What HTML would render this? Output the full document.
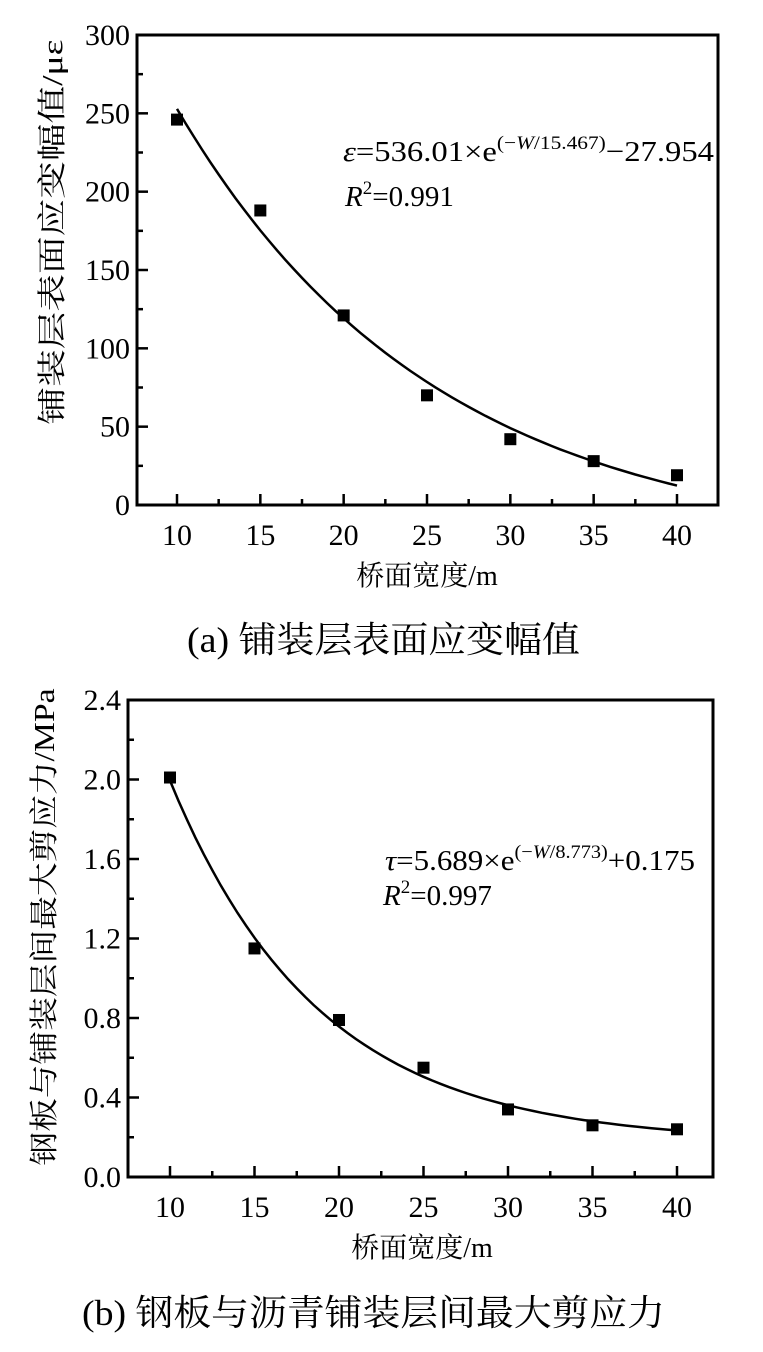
<!DOCTYPE html>
<html><head><meta charset="utf-8"><style>
body{margin:0;background:#fff;width:763px;height:1352px;overflow:hidden}
svg{display:block}
text{font-family:"Liberation Serif","Noto Serif CJK SC","Noto Sans CJK SC",serif;fill:#000}
</style></head><body>
<svg id="s" width="763" height="1352" xmlns="http://www.w3.org/2000/svg">
<g font-size="29">
<!-- top chart -->
<rect x="137" y="35" width="581" height="470" fill="none" stroke="#000" stroke-width="3"/>
<g id="t1"></g>
<text x="343" y="161" font-size="29" textLength="371" lengthAdjust="spacingAndGlyphs"><tspan font-style="italic">ε</tspan>=536.01×e<tspan dy="-12" font-size="19">(−<tspan font-style="italic">W</tspan>/15.467)</tspan><tspan dy="12">−27.954</tspan></text>
<text x="345" y="206"><tspan font-style="italic">R</tspan><tspan dy="-12" font-size="19">2</tspan><tspan dy="12">=0.991</tspan></text>
<text x="427" y="585" text-anchor="middle" font-size="28">桥面宽度/m</text>
<text transform="translate(62,232) rotate(-90)" text-anchor="middle" font-size="29" textLength="385" lengthAdjust="spacingAndGlyphs">铺装层表面应变幅值/με</text>
<text x="187" y="652" font-size="36" textLength="393" lengthAdjust="spacingAndGlyphs">(a)  铺装层表面应变幅值</text>
<!-- bottom chart -->
<rect x="128" y="700" width="585" height="477" fill="none" stroke="#000" stroke-width="3"/>
<g id="t2"></g>
<text x="385" y="870" textLength="310" lengthAdjust="spacingAndGlyphs"><tspan font-style="italic">τ</tspan>=5.689×e<tspan dy="-12" font-size="19">(−<tspan font-style="italic">W</tspan>/8.773)</tspan><tspan dy="12">+0.175</tspan></text>
<text x="383" y="905"><tspan font-style="italic">R</tspan><tspan dy="-12" font-size="19">2</tspan><tspan dy="12">=0.997</tspan></text>
<text x="422" y="1257" text-anchor="middle" font-size="28">桥面宽度/m</text>
<text transform="translate(54,927) rotate(-90)" text-anchor="middle" textLength="477" lengthAdjust="spacingAndGlyphs">钢板与铺装层间最大剪应力/MPa</text>
<text x="82" y="1325" font-size="36" textLength="583" lengthAdjust="spacingAndGlyphs">(b)  钢板与沥青铺装层间最大剪应力</text>
</g>
</svg>
<script>
var NS="http://www.w3.org/2000/svg";
function el(p,t,a,txt){var e=document.createElementNS(NS,t);for(var k in a)e.setAttribute(k,a[k]);if(txt!=null)e.textContent=txt;p.appendChild(e);return e;}
function chart(g,o){
 var X=function(v){return o.x10+(v-10)*(o.x40-o.x10)/30};
 var Y=function(v){return o.yb-(v-o.ymin)*(o.yb-o.yt)/(o.ymax-o.ymin)};
 for(var v=10;v<=40;v+=2.5){var x=X(v),maj=(v%5==0);
  el(g,'line',{x1:x,x2:x,y1:o.yb,y2:o.yb-(maj?11:6),stroke:'#000','stroke-width':2.5});
  if(maj)el(g,'text',{x:x,y:o.yb+40,'text-anchor':'middle','font-size':30},String(v));}
 for(var i=0;i<=o.n*2;i++){var v=o.ymin+i*o.step/2,y=Y(v),maj=i%2==0;
  el(g,'line',{x1:o.xl,x2:o.xl+(maj?11:6),y1:y,y2:y,stroke:'#000','stroke-width':2.5});
  if(maj)el(g,'text',{x:o.xl-7,y:y+10,'text-anchor':'end','font-size':30},o.fmt(v));}
 var d='';for(var w=10;w<=40.001;w+=0.5){d+=(d?'L':'M')+X(w).toFixed(1)+','+Y(o.f(w)).toFixed(1);}
 el(g,'path',{d:d,fill:'none',stroke:'#000','stroke-width':2.5});
 o.data.forEach(function(p,i){var x=X(10+5*i),y=Y(p);el(g,'rect',{x:x-6,y:y-6,width:12,height:12,fill:'#000'});});
}
chart(document.getElementById('t1'),{x10:177,x40:677,yb:505,yt:35,ymin:0,ymax:300,xl:137,step:50,n:6,
 fmt:function(v){return String(v)},f:function(w){return 536.01*Math.exp(-w/15.467)-27.954},
 data:[246,188,121,70,42,28,19]});
chart(document.getElementById('t2'),{x10:170,x40:677,yb:1177,yt:700,ymin:0,ymax:2.4,xl:128,step:0.4,n:6,
 fmt:function(v){return v.toFixed(1)},f:function(w){return 5.689*Math.exp(-w/8.773)+0.175},
 data:[2.01,1.15,0.79,0.55,0.34,0.26,0.24]});
</script>
</body></html>
